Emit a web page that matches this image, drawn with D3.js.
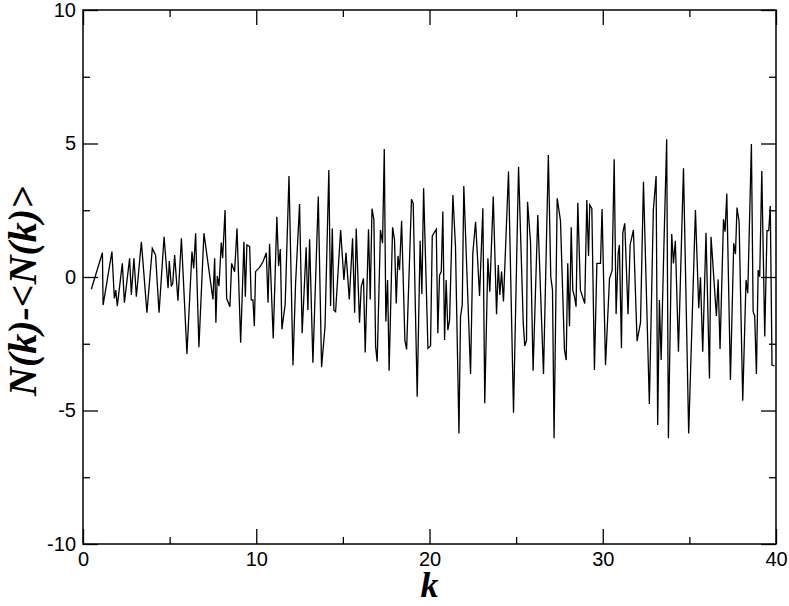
<!DOCTYPE html>
<meta charset="utf-8">
<body style="margin:0;background:#fff">
<div id="chart"></div>
<script src="https://cdnjs.cloudflare.com/ajax/libs/d3/7.8.5/d3.min.js"></script>
<script>

// k values and the fluctuation N(k)-<N(k)>
var kVals = [0.48,1.12,1.16,1.67,1.81,1.89,1.98,2.27,2.39,2.69,2.79,2.94,3.08,3.37,3.69,4.00,4.19,4.39,4.68,
  4.91,4.98,5.10,5.18,5.29,5.48,5.68,6.00,6.29,6.39,6.50,6.69,6.98,7.50,7.60,7.67,7.75,7.85,7.98,8.06,8.20,8.29,8.48,8.58,8.75,8.89,9.10,9.29,9.37,9.46,
  9.62,9.71,9.81,9.89,9.96,10.19,10.39,10.58,10.68,10.77,10.98,11.19,11.29,11.39,11.48,11.67,11.89,12.12,12.27,12.50,12.65,12.88,12.98,13.08,13.27,13.58,13.77,13.97,14.19,14.29,14.39,14.48,14.58,
  14.87,15.06,15.18,15.37,15.56,15.68,15.77,15.96,16.06,16.19,16.29,16.48,16.58,16.68,16.79,16.89,16.98,17.17,17.29,17.39,17.48,17.58,17.67,17.87,17.98,18.08,18.18,18.27,18.39,18.58,18.68,18.96,19.06,19.29,19.46,19.56,
  19.66,19.91,20.06,20.16,20.39,20.48,20.58,20.68,20.77,20.87,20.96,21.06,21.16,21.35,21.50,21.70,21.79,21.89,21.98,22.37,22.50,22.66,22.89,23.08,23.19,23.37,23.48,23.68,23.87,23.97,24.06,24.16,24.27,
  24.56,24.85,25.14,25.41,25.50,25.60,25.66,25.83,25.98,26.25,26.40,26.58,26.86,27.00,27.10,27.19,27.37,27.56,27.79,27.89,27.98,28.08,28.18,28.27,28.37,28.46,28.56,28.71,28.96,29.08,29.18,29.25,29.37,
  29.52,29.66,29.87,29.96,30.16,30.39,30.54,30.66,30.77,30.89,30.96,31.08,31.16,31.27,31.46,31.58,31.77,31.98,32.18,32.35,32.69,32.92,33.08,33.17,33.27,33.37,33.50,33.69,33.79,33.98,34.08,34.19,
  34.37,34.66,34.96,35.35,35.54,35.64,35.77,35.96,36.16,36.25,36.56,36.66,36.77,36.97,37.06,37.16,37.37,37.56,37.66,37.75,37.87,38.08,38.27,38.37,38.58,38.68,38.77,38.87,38.97,39.06,39.18,39.35,39.48,39.58,39.67,39.77,39.90]

var dN = [-0.46,0.91,-1.05,0.95,-0.80,-0.49,-1.09,0.51,-0.96,0.70,-0.67,0.70,-0.74,1.32,-1.34,1.07,0.82,-1.34,1.51,
  -0.42,0.60,-0.36,-0.24,0.82,-0.89,1.45,-2.88,0.95,0.32,1.64,-2.63,1.64,-0.84,0.70,-1.71,0.04,-0.34,1.29,0.70,2.51,-0.80,-1.11,0.51,0.20,1.82,-2.46,1.32,-0.74,1.20,
  1.14,-0.86,-0.86,-1.84,0.20,0.36,0.57,0.91,-0.96,1.24,-2.30,2.26,0.41,1.05,-1.96,-1.02,3.78,-3.31,-0.24,2.73,-2.11,1.11,-1.24,1.41,-3.21,3.01,-3.38,-1.86,4.01,-1.09,1.82,-1.24,-1.30,
  1.76,-0.11,0.91,-0.84,1.45,-1.34,1.82,-1.71,-0.36,-0.05,-2.83,1.79,-0.84,2.56,2.16,-2.61,-3.17,1.76,1.26,4.79,-1.67,-0.11,-3.51,1.86,1.39,-0.99,0.79,0.26,2.11,-2.38,-2.71,2.91,2.76,-4.48,1.36,-0.64,
  3.32,-2.67,-2.58,1.54,1.79,-2.11,0.07,0.20,2.45,-2.36,-0.11,-1.99,-1.61,3.07,1.14,-5.86,-1.49,-1.05,3.41,-3.63,0.89,2.07,-0.71,2.57,-4.73,0.70,-0.55,3.01,-1.39,0.45,-0.67,0.20,-0.92,
  3.95,-5.08,4.13,-1.71,-2.58,-2.38,2.82,1.32,-3.51,2.32,-0.36,-3.63,4.57,0.01,-0.49,-6.04,2.95,2.11,-2.73,-3.11,0.51,-1.84,1.86,-0.49,-0.74,-1.11,2.78,-0.49,-0.99,2.88,0.79,2.70,2.57,
  -3.48,0.51,0.51,2.55,-3.30,-0.05,0.24,4.41,-1.39,0.89,1.20,-2.67,1.66,2.01,-1.39,1.20,1.76,-2.40,-1.71,3.57,-4.76,2.51,3.78,-5.54,-0.86,-3.11,0.39,5.16,-6.04,1.61,0.51,1.36,
  -2.80,4.07,-5.86,2.51,-1.17,-0.01,-2.80,1.66,-3.80,1.51,-1.46,-0.09,-2.70,2.16,1.70,3.13,-3.86,1.26,0.86,2.60,2.07,-4.63,-0.11,-0.61,4.98,-1.30,-1.46,-3.63,0.26,0.01,3.97,-2.23,1.74,1.74,2.66,-3.30,-3.33]

var xTicks = [0, 10, 20, 30, 40]
var xMinor = [5, 15, 25, 35]
var yTicks = [-10, -5, 0, 5, 10]
var yMinor = [-7.5, -2.5, 2.5, 7.5]

var W = 789, H = 606
var margin = {left: 83, right: 13, top: 10, bottom: 62}
var iw = W - margin.left - margin.right,
    ih = H - margin.top - margin.bottom

var svg = d3.select("#chart").append("svg")
  .attr("width", W)
  .attr("height", H)

var g = svg.append("g")
  .attr("transform", "translate(" + margin.left + "," + margin.top + ")")

var x = d3.scaleLinear().domain([0, 40]).range([0, iw])
var y = d3.scaleLinear().domain([-10, 10]).range([ih, 0])

var pts = kVals.map((k, i) => [k, dN[i]])

// data line
g.append("path")
  .datum(pts)
  .attr("fill", "none")
  .attr("stroke", "#000")
  .attr("stroke-width", 1.3)
  .attr("d", d3.line().x(d => x(d[0])).y(d => y(d[1])))

var tickFont = "'Liberation Sans', Arial, Helvetica, sans-serif"
var plain = d => String(d)   // keep the ascii hyphen for negatives

function styleAxis(sel) {
  sel.select(".domain").remove()
  sel.selectAll("line").attr("stroke", "#000").attr("stroke-width", 1.3)
  sel.selectAll("text").style("font-family", tickFont).style("font-size", "20px").attr("fill", "#000")
}

// major + minor ticks, pointing inward, on all four sides
g.append("g").attr("transform", "translate(0," + ih + ")")
  .call(d3.axisBottom(x).tickValues(xTicks).tickSize(-15).tickPadding(8).tickFormat(plain))
  .call(styleAxis)
g.append("g").attr("transform", "translate(0," + ih + ")")
  .call(d3.axisBottom(x).tickValues(xMinor).tickSize(-7).tickFormat(""))
  .call(styleAxis)
g.append("g")
  .call(d3.axisTop(x).tickValues(xTicks).tickSize(-15).tickFormat(""))
  .call(styleAxis)
g.append("g")
  .call(d3.axisTop(x).tickValues(xMinor).tickSize(-7).tickFormat(""))
  .call(styleAxis)

g.append("g")
  .call(d3.axisLeft(y).tickValues(yTicks).tickSize(-15).tickPadding(7).tickFormat(plain))
  .call(styleAxis)
g.append("g")
  .call(d3.axisLeft(y).tickValues(yMinor).tickSize(-7).tickFormat(""))
  .call(styleAxis)
g.append("g").attr("transform", "translate(" + iw + ",0)")
  .call(d3.axisRight(y).tickValues(yTicks).tickSize(-15).tickFormat(""))
  .call(styleAxis)
g.append("g").attr("transform", "translate(" + iw + ",0)")
  .call(d3.axisRight(y).tickValues(yMinor).tickSize(-7).tickFormat(""))
  .call(styleAxis)

// frame
g.append("rect")
  .attr("width", iw)
  .attr("height", ih)
  .attr("fill", "none")
  .attr("stroke", "#000")
  .attr("stroke-width", 1.5)

var titleFont = "'Liberation Serif', 'Times New Roman', serif"

svg.append("text")
  .text("k")
  .attr("x", margin.left + iw / 2)
  .attr("y", 597)
  .attr("text-anchor", "middle")
  .style("font-family", titleFont)
  .style("font-weight", "bold")
  .style("font-style", "italic")
  .style("font-size", "36px")

svg.append("text")
  .text("N(k)-<N(k)>")
  .attr("transform", "translate(36,291) rotate(-90)")
  .attr("text-anchor", "middle")
  .style("font-family", titleFont)
  .style("font-weight", "bold")
  .style("font-style", "italic")
  .style("font-size", "40px")

</script>
</body>
